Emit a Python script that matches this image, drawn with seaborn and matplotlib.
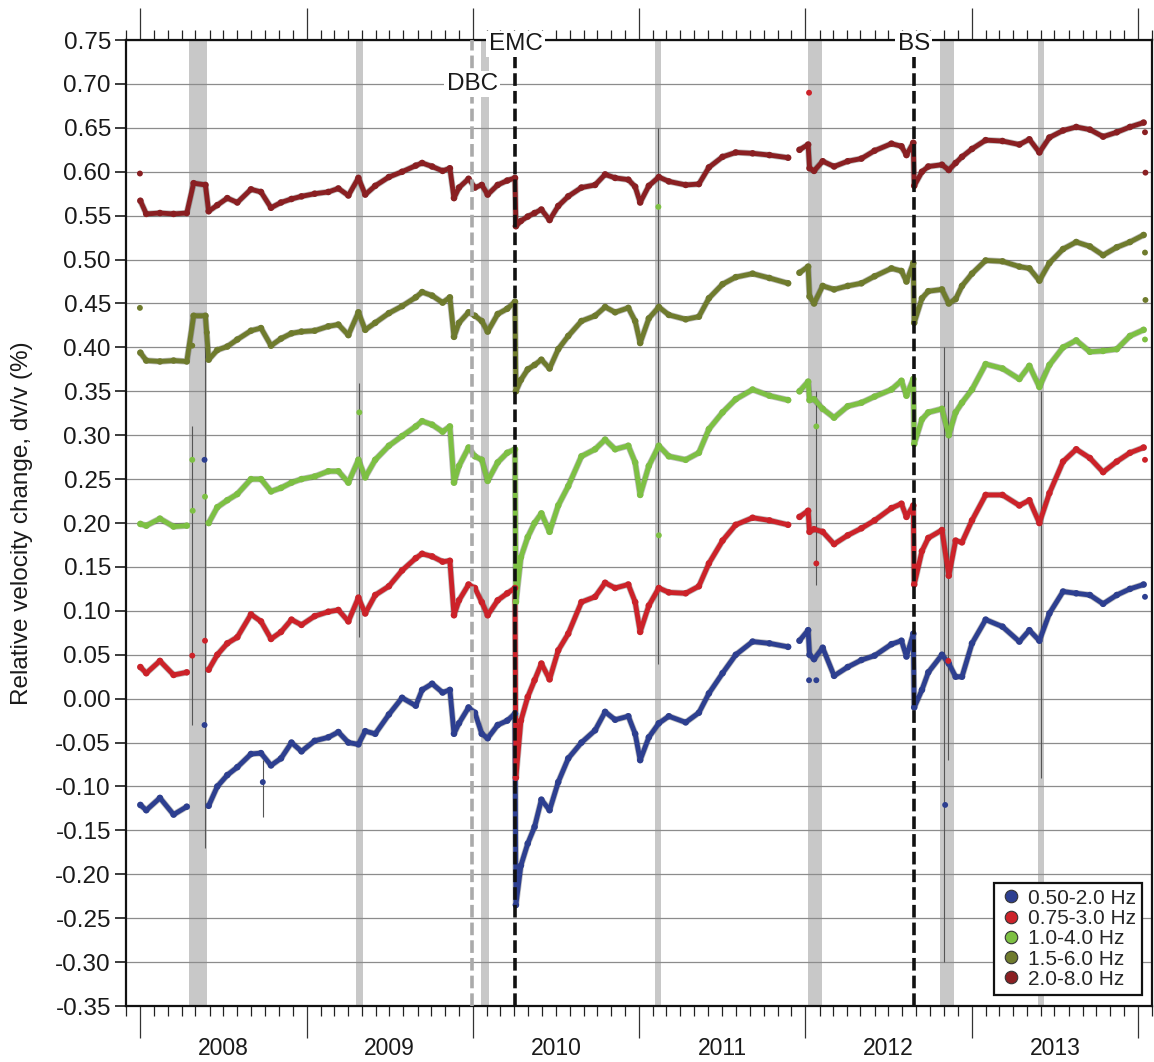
import numpy as np
import pandas as pd
import matplotlib
matplotlib.use("Agg")
import matplotlib.pyplot as plt
import matplotlib.dates as mdates
from matplotlib.lines import Line2D
from matplotlib.ticker import FixedLocator, FixedFormatter, NullFormatter, NullLocator
import seaborn as sns

nan = np.nan

# ---------------- data ----------------
dates = [
    "2008-01-01", "2008-01-14", "2008-02-13", "2008-03-14", "2008-04-12",
    "2008-04-27", "2008-05-23", "2008-05-30", "2008-06-18", "2008-07-10",
    "2008-08-01", "2008-08-31", "2008-09-22", "2008-10-14", "2008-11-05",
    "2008-11-28", "2008-12-20", "2009-01-18", "2009-02-17", "2009-03-11",
    "2009-04-02", "2009-04-24", "2009-05-09", "2009-05-31", "2009-06-30",
    "2009-07-29", "2009-08-28", "2009-09-11", "2009-10-03", "2009-10-26",
    "2009-11-11", "2009-11-20", "2009-12-01", "2009-12-22", "2010-01-05",
    "2010-01-20", "2010-02-02", "2010-02-24", "2010-03-17", "2010-04-03",
    "2010-04-05", "2010-04-16", "2010-05-01", "2010-05-16", "2010-05-31",
    "2010-06-18", "2010-07-07", "2010-07-29", "2010-08-27", "2010-09-26",
    "2010-10-18", "2010-11-09", "2010-12-08", "2010-12-23", "2011-01-03",
    "2011-01-22", "2011-02-13", "2011-03-07", "2011-04-13", "2011-05-12",
    "2011-06-03", "2011-07-03", "2011-08-01", "2011-09-07", "2011-10-14",
    "2011-11-24", "2011-12-08", "2011-12-19", "2012-01-07", "2012-01-10",
    "2012-01-20", "2012-02-08", "2012-03-04", "2012-04-03", "2012-05-03",
    "2012-06-01", "2012-07-08", "2012-07-30", "2012-08-10", "2012-08-25",
    "2012-08-27", "2012-09-13", "2012-09-27", "2012-10-27", "2012-11-11",
    "2012-11-26", "2012-12-10", "2013-01-01", "2013-01-31", "2013-03-09",
    "2013-04-15", "2013-05-07", "2013-05-29", "2013-06-20", "2013-07-20",
    "2013-08-18", "2013-09-17", "2013-10-16", "2013-11-15", "2013-12-14",
    "2014-01-13",
]

dvv_050_200 = [
    -0.121, -0.127, -0.113, -0.132, -0.123,
    nan, nan, -0.122, -0.100, -0.087,
    -0.078, -0.063, -0.062, -0.076, -0.068,
    -0.050, -0.060, -0.048, -0.044, -0.038,
    -0.050, -0.052, -0.037, -0.040, -0.018,
    0.001, -0.008, 0.010, 0.017, 0.007,
    0.010, -0.040, -0.028, -0.010, -0.016,
    -0.040, -0.045, -0.030, -0.025, -0.017,
    -0.235, -0.190, -0.165, -0.146, -0.115,
    -0.127, -0.095, -0.068, -0.050, -0.036,
    -0.015, -0.024, -0.020, -0.040, -0.070,
    -0.044, -0.028, -0.020, -0.027, -0.016,
    0.006, 0.029, 0.050, 0.065, 0.063,
    0.059, nan, 0.066, 0.078, 0.050,
    0.045, 0.058, 0.026, 0.036, 0.044,
    0.049, 0.062, 0.066, 0.048, 0.074,
    -0.010, 0.010, 0.030, 0.050, 0.040,
    0.025, 0.025, 0.063, 0.090, 0.082,
    0.065, 0.078, 0.066, 0.097, 0.122,
    0.120, 0.118, 0.108, 0.118, 0.125,
    0.130,
]

dvv_075_300 = [
    0.036, 0.029, 0.043, 0.027, 0.030,
    nan, nan, 0.033, 0.050, 0.063,
    0.070, 0.096, 0.088, 0.068, 0.076,
    0.090, 0.084, 0.094, 0.099, 0.101,
    0.088, 0.115, 0.097, 0.118, 0.128,
    0.146, 0.160, 0.165, 0.162, 0.156,
    0.157, 0.095, 0.112, 0.130, 0.126,
    0.110, 0.095, 0.112, 0.120, 0.126,
    -0.090, -0.025, 0.002, 0.021, 0.040,
    0.022, 0.055, 0.074, 0.110, 0.116,
    0.132, 0.126, 0.130, 0.110, 0.076,
    0.106, 0.126, 0.121, 0.120, 0.128,
    0.154, 0.180, 0.198, 0.206, 0.203,
    0.198, nan, 0.207, 0.214, 0.190,
    0.193, 0.190, 0.176, 0.186, 0.194,
    0.203, 0.217, 0.222, 0.207, 0.220,
    0.130, 0.168, 0.183, 0.192, 0.140,
    0.180, 0.178, 0.203, 0.232, 0.232,
    0.220, 0.226, 0.200, 0.234, 0.270,
    0.284, 0.274, 0.258, 0.270, 0.280,
    0.286,
]

dvv_100_400 = [
    0.199, 0.197, 0.205, 0.196, 0.197,
    nan, nan, 0.200, 0.218, 0.226,
    0.233, 0.250, 0.250, 0.236, 0.240,
    0.246, 0.250, 0.253, 0.259, 0.259,
    0.246, 0.272, 0.252, 0.272, 0.288,
    0.299, 0.310, 0.316, 0.312, 0.304,
    0.310, 0.246, 0.265, 0.286, 0.276,
    0.272, 0.248, 0.269, 0.280, 0.284,
    0.110, 0.161, 0.184, 0.200, 0.211,
    0.190, 0.220, 0.242, 0.276, 0.284,
    0.295, 0.284, 0.288, 0.269, 0.232,
    0.265, 0.288, 0.276, 0.272, 0.280,
    0.307, 0.326, 0.341, 0.352, 0.345,
    0.340, nan, 0.350, 0.361, 0.340,
    0.341, 0.330, 0.320, 0.333, 0.337,
    0.344, 0.352, 0.362, 0.345, 0.364,
    0.290, 0.318, 0.326, 0.330, 0.300,
    0.326, 0.337, 0.352, 0.381, 0.376,
    0.364, 0.379, 0.355, 0.380, 0.400,
    0.408, 0.395, 0.396, 0.398, 0.413,
    0.420,
]

dvv_150_600 = [
    0.394, 0.385, 0.384, 0.385, 0.384,
    0.436, 0.436, 0.386, 0.397, 0.401,
    0.409, 0.419, 0.422, 0.402, 0.410,
    0.416, 0.418, 0.419, 0.424, 0.426,
    0.414, 0.440, 0.420, 0.428, 0.439,
    0.447, 0.457, 0.463, 0.459, 0.451,
    0.457, 0.412, 0.428, 0.440, 0.436,
    0.430, 0.418, 0.438, 0.444, 0.452,
    0.350, 0.363, 0.375, 0.380, 0.386,
    0.376, 0.398, 0.413, 0.430, 0.436,
    0.446, 0.440, 0.445, 0.430, 0.405,
    0.433, 0.446, 0.437, 0.432, 0.435,
    0.456, 0.472, 0.480, 0.484, 0.479,
    0.473, nan, 0.485, 0.492, 0.458,
    0.450, 0.470, 0.466, 0.470, 0.473,
    0.481, 0.490, 0.487, 0.475, 0.496,
    0.428, 0.456, 0.464, 0.466, 0.450,
    0.455, 0.470, 0.484, 0.499, 0.498,
    0.492, 0.490, 0.476, 0.496, 0.512,
    0.520, 0.515, 0.505, 0.514, 0.520,
    0.528,
]

dvv_200_800 = [
    0.567, 0.552, 0.553, 0.552, 0.553,
    0.587, 0.585, 0.555, 0.562, 0.570,
    0.565, 0.580, 0.577, 0.559, 0.565,
    0.569, 0.572, 0.575, 0.577, 0.581,
    0.573, 0.593, 0.574, 0.584, 0.594,
    0.600, 0.607, 0.610, 0.606, 0.601,
    0.604, 0.570, 0.582, 0.592, 0.582,
    0.585, 0.574, 0.585, 0.590, 0.593,
    0.538, 0.544, 0.549, 0.553, 0.557,
    0.545, 0.561, 0.572, 0.582, 0.585,
    0.597, 0.593, 0.591, 0.583, 0.565,
    0.584, 0.594, 0.589, 0.585, 0.586,
    0.605, 0.617, 0.622, 0.621, 0.619,
    0.616, nan, 0.625, 0.631, 0.604,
    0.601, 0.612, 0.606, 0.612, 0.615,
    0.624, 0.632, 0.629, 0.619, 0.633,
    0.584, 0.600, 0.606, 0.608, 0.602,
    0.610, 0.617, 0.626, 0.636, 0.635,
    0.631, 0.637, 0.622, 0.639, 0.647,
    0.651, 0.648, 0.640, 0.645, 0.651,
    0.656,
]

series_labels = ["0.50-2.0 Hz", "0.75-3.0 Hz", "1.0-4.0 Hz", "1.5-6.0 Hz", "2.0-8.0 Hz"]
series_values = [dvv_050_200, dvv_075_300, dvv_100_400, dvv_150_600, dvv_200_800]
series_colors = ["#2d3f90", "#cc2229", "#7dc043", "#6f7b2d", "#8a1f22"]

# isolated points (outliers)
outlier_series = ["2.0-8.0 Hz", "2.0-8.0 Hz", "2.0-8.0 Hz",
                  "1.5-6.0 Hz", "1.5-6.0 Hz", "1.5-6.0 Hz", "1.5-6.0 Hz", "1.5-6.0 Hz",
                  "1.0-4.0 Hz", "1.0-4.0 Hz", "1.0-4.0 Hz", "1.0-4.0 Hz", "1.0-4.0 Hz",
                  "1.0-4.0 Hz", "1.0-4.0 Hz", "1.0-4.0 Hz",
                  "0.75-3.0 Hz", "0.75-3.0 Hz", "0.75-3.0 Hz", "0.75-3.0 Hz", "0.75-3.0 Hz",
                  "0.75-3.0 Hz",
                  "0.50-2.0 Hz", "0.50-2.0 Hz", "0.50-2.0 Hz", "0.50-2.0 Hz", "0.50-2.0 Hz",
                  "0.50-2.0 Hz", "0.50-2.0 Hz"]
outlier_dates = ["2007-12-31", "2014-01-16", "2014-01-17",
                 "2007-12-31", "2008-04-24", "2008-05-26", "2014-01-16", "2014-01-17",
                 "2008-04-24", "2008-04-25", "2008-05-22", "2009-04-26", "2011-02-12",
                 "2011-02-13", "2012-01-25", "2014-01-16",
                 "2008-04-24", "2008-05-22", "2012-01-09", "2012-01-25", "2012-11-10",
                 "2014-01-16",
                 "2008-05-21", "2008-05-21", "2008-09-26", "2012-01-09", "2012-01-25",
                 "2012-11-03", "2014-01-16"]
outlier_values = [0.598, 0.645, 0.599,
                  0.445, 0.402, 0.417, 0.508, 0.454,
                  0.272, 0.214, 0.230, 0.326, 0.560,
                  0.186, 0.310, 0.409,
                  0.049, 0.066, 0.690, 0.154, 0.043,
                  0.272,
                  0.272, -0.030, -0.095, 0.021, 0.021,
                  -0.121, 0.116]

# long error bars
err_dates = ["2008-04-24", "2008-05-21", "2008-09-26", "2009-04-26", "2011-02-12",
             "2012-01-25", "2012-11-01", "2012-11-09", "2013-06-01"]
err_lo = [-0.03, -0.17, -0.135, 0.07, 0.04, 0.13, -0.30, -0.07, -0.09]
err_hi = [0.31, 0.40, -0.07, 0.36, 0.65, 0.35, 0.40, 0.35, 0.35]

# grey shaded periods
band_starts = ["2008-04-16", "2009-04-18", "2010-01-18", "2011-02-05", "2012-01-06",
               "2012-10-22", "2013-05-27"]
band_ends = ["2008-05-27", "2009-05-05", "2010-02-05", "2011-02-18", "2012-02-07",
             "2012-11-22", "2013-06-09"]

# events
event_names = ["DBC", "EMC", "BS"]
event_dates = ["2009-12-30", "2010-04-04", "2012-08-26"]
event_colors = ["#aaaaaa", "#111111", "#111111"]
event_label_y = [0.70, 0.7455, 0.7455]

year_labels = ["2008", "2009", "2010", "2011", "2012", "2013"]
ytick_values = [-0.35, -0.30, -0.25, -0.20, -0.15, -0.10, -0.05, 0.00, 0.05, 0.10,
                0.15, 0.20, 0.25, 0.30, 0.35, 0.40, 0.45, 0.50, 0.55, 0.60, 0.65, 0.70, 0.75]

# ---------------- build tables ----------------
rows = []
for lab, vals in zip(series_labels, series_values):
    seg = 0
    for d, v in zip(dates, vals):
        if np.isnan(v):
            seg += 1
            continue
        rows.append({"date": pd.Timestamp(d), "dvv": v, "band": lab, "seg": f"{lab}#{seg}"})
df = pd.DataFrame(rows)
out_df = pd.DataFrame({"date": pd.to_datetime(outlier_dates), "dvv": outlier_values,
                       "band": outlier_series})
palette = dict(zip(series_labels, series_colors))

# ---------------- figure ----------------
sns.set_style("white")
plt.rcParams["font.family"] = ["Liberation Sans", "DejaVu Sans"]
plt.rcParams["axes.unicode_minus"] = False

fig = plt.figure(figsize=(11.54, 10.62), dpi=100)
ax = fig.add_axes([0.1094, 0.0527, 0.8891, 0.9096])

for s, e in zip(band_starts, band_ends):
    ax.axvspan(pd.Timestamp(s), pd.Timestamp(e), color="#c8c8c8", lw=0, zorder=0.3)

ax.vlines(pd.to_datetime(err_dates), err_lo, err_hi, color="#555555", lw=0.8, zorder=2.6)

halo = {lab: "#2a2a2a" for lab in series_labels}
sns.lineplot(data=df, x="date", y="dvv", hue="band", units="seg", estimator=None,
             palette=halo, lw=4.6, alpha=0.3, legend=False, ax=ax, zorder=2.8)
sns.lineplot(data=df, x="date", y="dvv", hue="band", units="seg", estimator=None,
             palette=palette, lw=3.5, legend=False, ax=ax, zorder=3)
sns.scatterplot(data=df, x="date", y="dvv", hue="band", palette=palette, s=22,
                linewidth=0, legend=False, ax=ax, zorder=3.2)
sns.scatterplot(data=out_df, x="date", y="dvv", hue="band", palette=palette, s=18,
                linewidth=0, legend=False, ax=ax, zorder=3.2)

for name, d, c, ly in zip(event_names, event_dates, event_colors, event_label_y):
    ax.axvline(pd.Timestamp(d), color=c, lw=2.6, ls=(0, (3.5, 1.4)), zorder=5)
    ax.text(pd.Timestamp(d), ly, name, ha="center", va="center", fontsize=17.5,
            color="#1a1a1a", zorder=10, clip_on=False,
            bbox=dict(fc="white", ec="none", pad=1.5))

# axes limits / ticks
ax.set_xlim(pd.Timestamp("2007-12-01"), pd.Timestamp("2014-02-01"))
ax.set_ylim(-0.35, 0.75)
ax.set_yticks(ytick_values)
ax.set_yticklabels([f"{abs(v):.2f}" if abs(v) < 1e-9 else f"{v:.2f}" for v in ytick_values])
ax.tick_params(axis="y", direction="out", length=8, width=1.2, pad=3, labelsize=17.5,
               left=True, right=False, colors="#1a1a1a")

ax.xaxis.set_major_locator(mdates.YearLocator())
ax.xaxis.set_minor_locator(mdates.MonthLocator())
ax.xaxis.set_major_formatter(NullFormatter())
ax.xaxis.set_minor_formatter(NullFormatter())
ax.tick_params(axis="x", which="major", direction="out", length=23, width=0.9,
               top=True, bottom=True, color="#333333")
ax.tick_params(axis="x", which="minor", direction="out", length=7.5, width=0.9,
               top=True, bottom=True, color="#222222")

secax = ax.secondary_xaxis("bottom")
mid_years = [mdates.date2num(pd.Timestamp(f"{y}-07-02")) for y in year_labels]
secax.xaxis.set_major_locator(FixedLocator(mid_years))
secax.xaxis.set_major_formatter(FixedFormatter(year_labels))
secax.xaxis.set_minor_locator(NullLocator())
secax.tick_params(axis="x", length=0, pad=22, labelsize=16.5, colors="#1a1a1a")
secax.spines["bottom"].set_visible(False)

ax.set_axisbelow(True)
ax.yaxis.grid(True, color="#8c8c8c", lw=0.9)
ax.xaxis.grid(False)
for sp in ax.spines.values():
    sp.set_color("#111111")
    sp.set_linewidth(1.6)

ax.set_xlabel("")
ax.set_ylabel("Relative velocity change, dv/v (%)", fontsize=17.5, color="#1a1a1a")
ax.yaxis.set_label_coords(-0.091, 0.5)

handles = [Line2D([], [], ls="", marker="o", ms=9, mfc=c, mec="#333333", mew=0.8)
           for c in series_colors]
leg = ax.legend(handles, series_labels, loc="lower right", bbox_to_anchor=(0.990, 0.0114),
                borderaxespad=0, frameon=True, fancybox=False, framealpha=1,
                edgecolor="#111111", fontsize=15, handletextpad=0.3, handlelength=1.0,
                labelspacing=0.06, borderpad=0.3)
leg.get_frame().set_linewidth(1.6)
leg.set_zorder(12)

fig.savefig("out.png", dpi=100)
